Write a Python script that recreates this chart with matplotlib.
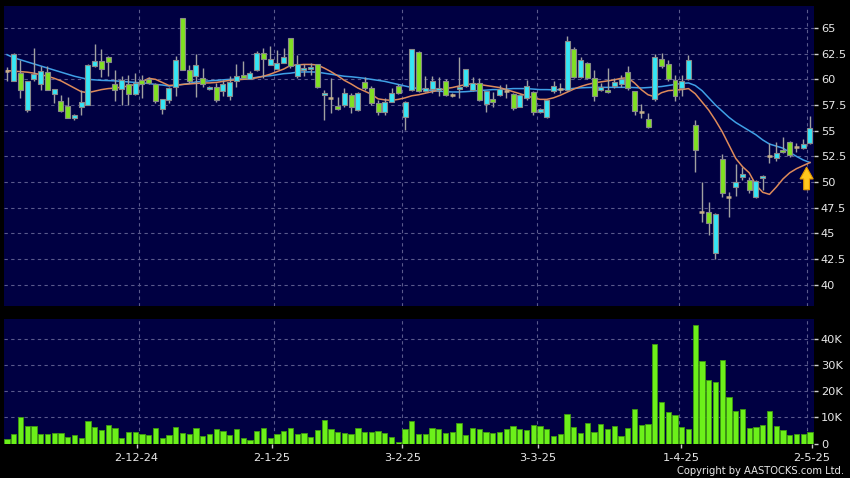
import matplotlib
matplotlib.use('Agg')
import matplotlib.pyplot as plt
import numpy as np
from matplotlib.patches import FancyArrow

# ---------------- data ----------------
opens = [60.85, 59.85, 60.6, 57.05, 60.07, 59.55, 60.7, 58.57, 57.86, 57.4,
         56.2, 57.3, 57.53, 61.27, 61.75, 62.2, 59.55, 59.1, 59.5, 58.57,
         59.97, 60.03, 59.5, 57.1, 58.0, 59.3, 65.95, 60.94, 60.36, 60.13,
         59.05, 59.3, 58.9, 58.34, 59.8, 60.4, 60.03, 60.94, 62.56, 61.43,
         61.04, 61.6, 64.03, 60.36, 60.95, 61.0, 61.45, 58.48, 58.16, 57.4,
         57.5, 58.48, 57.02, 59.78, 59.13, 57.67, 56.8, 57.83, 59.39, 56.37,
         58.96, 62.7, 58.83, 59.1, 59.0, 59.8, 58.5, 59.05, 59.35, 59.0,
         59.65, 57.6, 58.05, 58.5, 58.85, 58.6, 57.35, 58.2, 58.8, 56.82,
         56.3, 58.82, 59.05, 59.0, 63.0, 60.2, 61.6, 60.1, 59.0, 59.0,
         59.35, 59.5, 60.7, 58.85, 56.8, 56.1, 58.1, 61.95, 61.5, 59.95,
         59.2, 60.0, 55.55, 47.05, 47.1, 43.1, 52.2, 48.5, 49.5, 50.45,
         50.2, 48.5, 50.35, 52.55, 52.3, 53.1, 53.85, 53.4, 53.3, 53.8]
highs = [61.2, 62.6, 61.9, 59.85, 63.05, 61.3, 61.3, 59.1, 58.5, 58.3,
         56.6, 59.0, 61.5, 63.4, 62.95, 62.25, 60.9, 60.3, 60.45, 60.6,
         60.45, 60.2, 59.65, 58.1, 59.3, 62.25, 65.97, 61.43, 62.47, 61.1,
         59.38, 59.64, 59.97, 60.3, 61.5, 61.75, 60.85, 62.8, 63.05, 63.2,
         62.9, 63.05, 64.05, 62.4, 61.5, 61.6, 61.5, 58.96, 60.1, 58.3,
         59.2, 58.64, 58.8, 60.27, 59.35, 57.99, 58.15, 59.13, 59.55, 57.9,
         62.95, 62.75, 60.3, 60.36, 60.2, 60.0, 58.7, 62.2, 61.0, 60.2,
         60.1, 58.9, 58.8, 59.4, 59.5, 58.7, 58.6, 59.95, 58.9, 57.2,
         58.0, 59.8, 59.6, 64.2, 63.1, 62.2, 61.7, 60.9, 59.6, 61.1,
         60.1, 60.4, 61.3, 58.9, 57.6, 56.7, 62.45, 62.6, 61.9, 60.4,
         60.45, 62.35, 56.05, 50.0, 48.1, 47.0, 52.7, 49.05, 51.75, 51.5,
         50.45, 50.2, 50.7, 53.8, 53.85, 54.35, 53.95, 53.8, 54.15, 56.45]
lows = [59.8, 59.8, 58.2, 56.8, 59.8, 59.0, 59.0, 57.7, 56.8, 56.2,
        56.0, 56.56, 57.5, 61.2, 60.2, 60.3, 57.9, 57.5, 57.5, 58.5,
        58.2, 59.5, 57.7, 56.6, 57.7, 58.35, 60.9, 59.64, 58.25, 59.3,
        59.0, 57.8, 58.4, 58.0, 59.3, 60.0, 60.0, 60.8, 60.13, 61.4,
        61.0, 61.55, 61.1, 60.13, 60.3, 60.4, 59.2, 56.04, 56.7, 57.0,
        57.3, 56.77, 56.9, 59.0, 57.5, 56.5, 56.5, 57.8, 58.6, 55.07,
        58.9, 58.8, 58.75, 58.67, 58.4, 58.4, 58.3, 58.2, 59.3, 58.9,
        57.9, 56.8, 57.3, 58.4, 58.2, 57.0, 57.3, 58.0, 56.5, 56.7,
        56.2, 58.7, 58.7, 58.9, 60.1, 60.1, 60.0, 57.9, 58.9, 58.7,
        59.2, 59.3, 59.0, 56.5, 56.2, 55.25, 57.9, 61.1, 59.8, 57.85,
        58.4, 59.9, 51.0, 46.15, 44.85, 42.5, 48.55, 46.6, 48.65, 50.2,
        48.9, 48.4, 49.2, 51.85, 52.0, 52.8, 52.4, 52.9, 53.25, 53.75]
closes = [60.85, 62.45, 59.0, 59.8, 60.5, 60.84, 59.0, 59.06, 56.9, 56.2,
          56.56, 57.76, 61.43, 61.75, 61.0, 61.65, 59.0, 59.93, 58.57, 59.64,
          59.5, 59.64, 57.86, 58.08, 59.2, 61.9, 60.95, 59.87, 61.36, 59.58,
          59.3, 57.95, 59.55, 59.7, 60.36, 60.15, 60.6, 62.56, 61.98, 61.98,
          61.6, 62.14, 61.27, 61.5, 61.15, 61.2, 59.25, 58.7, 58.16, 57.07,
          58.7, 57.28, 58.64, 59.13, 57.67, 56.86, 57.83, 58.64, 58.64, 57.83,
          62.93, 58.85, 59.16, 59.87, 59.2, 58.5, 58.5, 59.25, 60.98, 59.6,
          58.0, 58.85, 57.8, 59.05, 58.85, 57.2, 58.5, 59.35, 56.8, 57.1,
          57.95, 59.35, 59.05, 63.7, 60.2, 61.85, 60.1, 58.4, 59.3, 58.8,
          59.7, 60.05, 59.15, 56.9, 56.8, 55.35, 62.2, 61.3, 60.0, 58.35,
          59.8, 61.85, 53.1, 47.05, 46.0, 46.85, 48.95, 48.5, 50.0, 50.8,
          49.25, 50.1, 50.6, 52.55, 52.85, 52.95, 52.6, 53.4, 53.75, 55.3]
volumes_k = [1.9, 3.8, 10.0, 6.7, 6.7, 3.8, 3.8, 4.1, 4.0, 2.6,
             3.1, 2.3, 8.7, 6.2, 5.1, 7.2, 5.9, 2.3, 4.4, 4.4,
             3.5, 3.1, 5.9, 2.2, 3.2, 6.2, 4.0, 3.5, 5.9, 2.9,
             3.8, 5.6, 4.7, 3.1, 5.5, 2.3, 1.2, 4.9, 6.0, 2.1,
             3.8, 4.9, 6.0, 3.6, 4.0, 2.4, 5.3, 9.1, 5.5, 4.4,
             4.0, 3.7, 5.8, 4.5, 4.5, 4.7, 4.1, 2.4, 0.4, 5.6,
             8.6, 3.8, 3.5, 5.8, 5.5, 4.0, 4.5, 7.7, 3.3, 5.9,
             5.5, 4.4, 4.2, 4.4, 5.5, 6.7, 5.4, 5.1, 7.1, 6.7,
             5.5, 2.9, 3.5, 11.5, 6.5, 4.0, 7.8, 4.4, 7.4, 5.6,
             6.7, 2.9, 6.0, 13.1, 7.1, 7.4, 38.1, 16.0, 12.1, 11.0,
             6.3, 5.5, 45.5, 31.8, 24.4, 23.5, 31.9, 17.9, 12.3, 13.1,
             5.9, 6.3, 7.1, 12.3, 6.9, 5.3, 3.1, 3.6, 3.8, 4.5]
ma_short = [60.85, 60.8, 60.75, 60.7, 60.6, 60.45, 60.3, 60.1, 59.85, 59.5,
            59.15, 58.8, 58.7, 58.85, 59.0, 59.1, 59.15, 59.25, 59.35, 59.5,
            59.75, 60.1, 60.0, 59.7, 59.4, 59.45, 59.5, 59.55, 59.6, 59.65,
            59.65, 59.7, 59.8, 59.9, 59.95, 60.0, 60.05, 60.15, 60.3, 60.5,
            60.75, 61.0, 61.35, 61.4, 61.45, 61.45, 61.4, 61.1, 60.75, 60.35,
            59.9, 59.55, 59.15, 58.85, 58.55, 58.1, 58.0, 57.95, 58.05, 58.2,
            58.4, 58.5, 58.65, 58.8, 58.95, 59.1, 59.2, 59.35, 59.5, 59.55,
            59.5, 59.4, 59.3, 59.2, 59.0, 58.8, 58.6, 58.4, 58.2, 58.05,
            58.05, 58.2, 58.45, 58.75, 59.05, 59.3, 59.5, 59.65, 59.75, 59.85,
            59.95, 60.1, 60.15, 59.65, 59.0, 58.5, 58.3, 58.7, 58.9, 58.95,
            59.0, 59.1, 58.6, 57.8, 57.0, 56.0, 54.9, 53.6, 52.3, 51.5,
            50.9, 49.7, 49.0, 48.8, 49.5, 50.3, 50.9, 51.3, 51.6, 51.9]
ma_long = [62.4, 62.1, 61.9, 61.7, 61.5, 61.3, 61.1, 60.9, 60.7, 60.5,
           60.3, 60.15, 60.0, 59.95, 59.9, 59.88, 59.85, 59.8, 59.75, 59.7,
           59.65, 59.6, 59.5, 59.45, 59.35, 59.4, 59.5, 59.6, 59.75, 59.8,
           59.85, 59.9, 59.95, 60.0, 60.02, 60.05, 60.1, 60.2, 60.3, 60.35,
           60.45, 60.55, 60.6, 60.7, 60.72, 60.72, 60.7, 60.6, 60.5, 60.4,
           60.3, 60.25, 60.18, 60.1, 60.0, 59.9, 59.8, 59.65, 59.5, 59.35,
           59.2, 59.1, 59.0, 58.9, 58.85, 58.8, 58.77, 58.77, 58.8, 58.85,
           58.9, 58.95, 59.0, 59.0, 59.05, 59.1, 59.1, 59.1, 59.05, 59.0,
           59.0, 58.98, 59.0, 59.05, 59.12, 59.17, 59.2, 59.22, 59.22, 59.22,
           59.22, 59.22, 59.22, 59.2, 59.16, 59.2, 59.25, 59.3, 59.4, 59.5,
           59.6, 59.65, 59.4, 58.9, 58.2, 57.5, 56.9, 56.3, 55.8, 55.4,
           55.0, 54.6, 54.1, 53.7, 53.5, 53.3, 52.9, 52.5, 52.15, 51.9]
month_labels = ['2-12-24', '2-1-25', '3-2-25', '3-3-25', '1-4-25', '2-5-25']
month_first_idx = [20, 40, 59, 79, 100, 119]
label_shift = [-0.8, -0.7, -0.4, -0.3, -0.1, 0.3]
price_ticks = [40, 42.5, 45, 47.5, 50, 52.5, 55, 57.5, 60, 62.5, 65]
vol_ticks_k = [0, 10, 20, 30, 40]

# ---------------- styling ----------------
BG = '#000000'
PANEL = '#000042'
GRID = '#5a5a8c'
CYAN = '#35e6f5'
GREEN = '#80e022'
VOLG = '#6cf01a'
EDGE = '#8a8a8a'
WICK = '#a0a0a0'
DOJI = '#c4ae88'
ORANGE = '#de8a5a'
BLUE = '#3fa0e6'
TXT = '#e8e8e8'

W, H = 850, 478
fig = plt.figure(figsize=(W / 100, H / 100), dpi=100, facecolor=BG)
ax = fig.add_axes([4 / W, 1 - 306 / H, 810 / W, (306 - 5.7) / H])
axv = fig.add_axes([4 / W, 1 - 443.5 / H, 810 / W, (443.5 - 319.3) / H])

n = len(closes)
x = np.arange(n)
o = np.array(opens); c = np.array(closes)
hi = np.array(highs); lo = np.array(lows)
up = c > o
dn = c < o
fl = c == o
bb = np.minimum(o, c)
bh = np.abs(c - o)

for a in (ax, axv):
    a.set_facecolor(PANEL)
    for s in a.spines.values():
        s.set_visible(False)
    a.set_xlim(-0.445, 119.6)
    a.set_axisbelow(True)
    a.yaxis.tick_right()
    a.tick_params(axis='y', colors=TXT, length=3, width=1, pad=2,
                  labelsize=8.2, direction='out')
    a.tick_params(axis='y', which='both', color='#d0d0d0')
    gx = [m - 0.4 for m in month_first_idx]
    for g in gx:
        a.axvline(g, color=GRID, lw=0.8, ls=(0, (3, 3)), zorder=0)
    a.grid(axis='y', color=GRID, lw=0.8, ls=(0, (3, 3)), zorder=0)

# price panel
ax.plot(x, ma_long, color=BLUE, lw=1.1, zorder=2)
ax.plot(x, ma_short, color=ORANGE, lw=1.1, zorder=2)
ax.vlines(x, lo, hi, color=WICK, lw=1.0, zorder=3)
ax.bar(x[up], bh[up], bottom=bb[up], width=0.74, color=CYAN,
       edgecolor=EDGE, linewidth=0.8, zorder=4)
ax.bar(x[dn], bh[dn], bottom=bb[dn], width=0.74, color=GREEN,
       edgecolor=EDGE, linewidth=0.8, zorder=4)
ax.hlines(o[fl], x[fl] - 0.37, x[fl] + 0.37, color=DOJI, lw=1.8, zorder=4)

ax.set_ylim(37.93, 67.17)
ax.set_yticks(price_ticks)
ax.set_yticklabels(['{:g}'.format(t) for t in price_ticks])
ax.set_xticks([])

# yellow arrow below the last MA point
ax_tip = ma_short[-1] - 0.45
arr = FancyArrow(n - 1.5, ax_tip - 2.2, 0, 2.2, width=0.85, head_width=1.95,
                 head_length=1.15, length_includes_head=True,
                 facecolor='#ffc81e', edgecolor='#e69a00', lw=0.8, zorder=6)
ax.add_patch(arr)

# volume panel
axv.bar(x, volumes_k, width=0.78, color=VOLG, edgecolor='#3f9a10',
        linewidth=0.6, zorder=3)
axv.set_ylim(0, 47.7)
axv.set_yticks(vol_ticks_k)
axv.set_yticklabels(['0' if v == 0 else '{}K'.format(v) for v in vol_ticks_k])
axv.set_xticks([m + s for m, s in zip(month_first_idx, label_shift)])
axv.set_xticklabels(month_labels)
axv.tick_params(axis='x', colors='#c8c8c8', labelcolor=TXT, length=3,
                width=1, pad=4, labelsize=8.2, direction='out')

fig.text(844 / W, 1 - 471.5 / H, 'Copyright by AASTOCKS.com Ltd.',
         color=TXT, fontsize=7.2, ha='right', va='center')

fig.savefig('out.png', dpi=100, facecolor=BG)
